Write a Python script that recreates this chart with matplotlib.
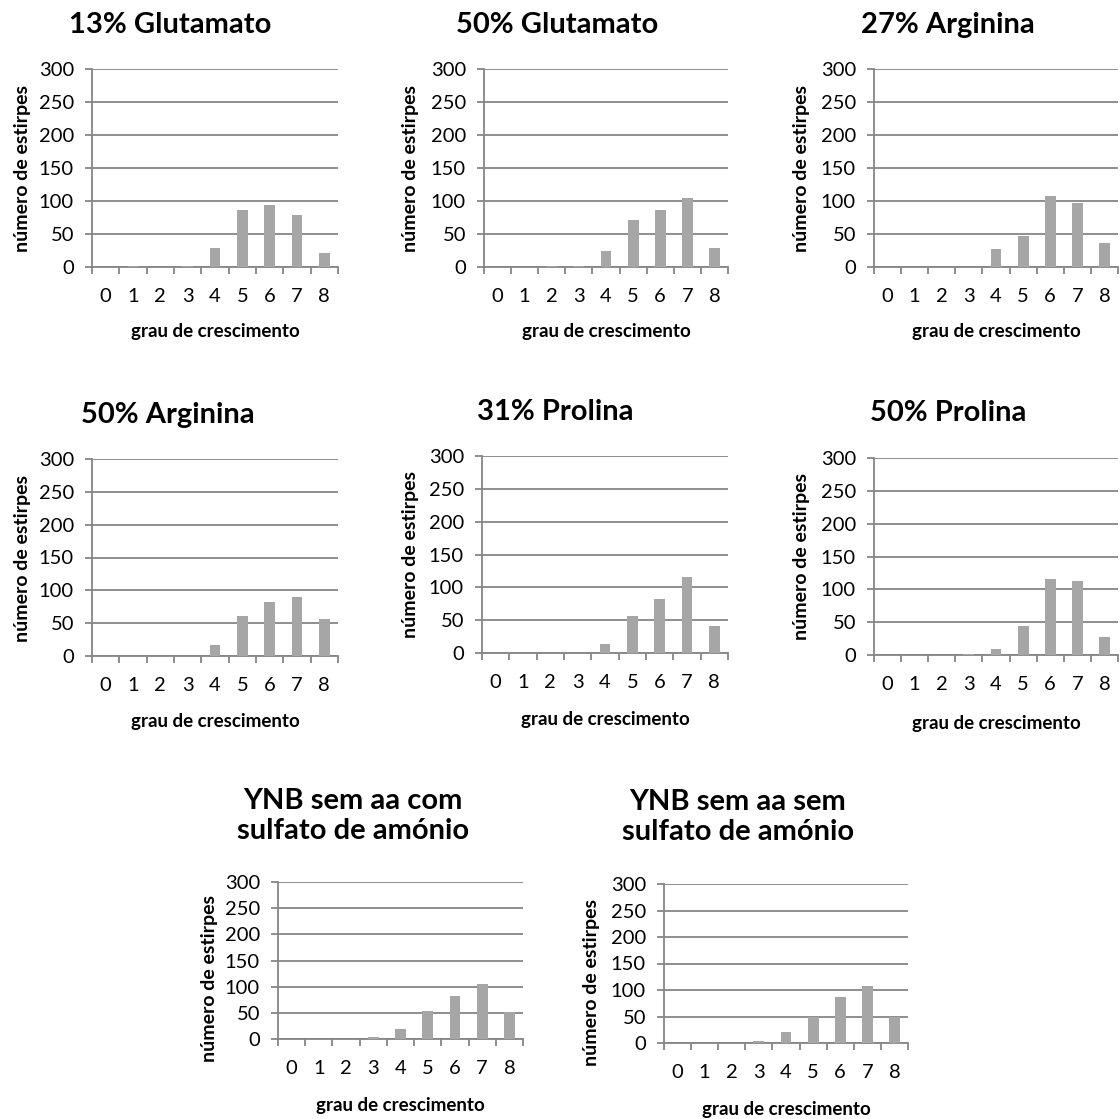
import matplotlib.pyplot as plt
import numpy as np

plt.rcParams["font.family"] = ["Lato", "DejaVu Sans"]

graus = [0, 1, 2, 3, 4, 5, 6, 7, 8]

titulos = [
    "13% Glutamato",
    "50% Glutamato",
    "27% Arginina",
    "50% Arginina",
    "31% Prolina",
    "50% Prolina",
    "YNB sem aa com\nsulfato de amónio",
    "YNB sem aa sem\nsulfato de amónio",
]

glut_13 = [0, 2, 0, 2, 29, 87, 94, 79, 21]
glut_50 = [0, 0, 2, 2, 24, 71, 87, 104, 29]
arg_27 = [0, 0, 0, 0, 27, 47, 107, 97, 37]
arg_50 = [0, 0, 0, 0, 16, 61, 82, 90, 56]
prol_31 = [0, 0, 0, 0, 14, 56, 82, 116, 41]
prol_50 = [0, 0, 0, 1, 9, 44, 116, 112, 28]
ynb_com = [0, 0, 0, 4, 20, 53, 82, 105, 51]
ynb_sem = [0, 0, 0, 4, 21, 50, 86, 108, 50]

series = [glut_13, glut_50, arg_27, arg_50, prol_31, prol_50, ynb_com, ynb_sem]

W, H = 1120, 1119
fig = plt.figure(figsize=(W / 100, H / 100), dpi=100)

# caixas dos eixos em pixeis: (esquerda, topo, direita, fundo)
caixas = [
    (92, 69, 338, 267), (484, 69, 728, 267), (874, 69, 1118, 267),
    (92, 459, 338, 656), (482, 456, 728, 653), (874, 458, 1118, 655),
    (278, 882, 523, 1039), (664, 884, 908, 1043),
]
# posicao do titulo (x, y) e do rotulo y (x, y)
pos_titulo = [(170, 25), (557, 25), (948, 25), (168, 415), (555, 412), (948, 413),
              (353, 816), (738, 817)]
pos_ylabel = [(23, 169), (411, 169), (802, 169), (23, 558), (411, 555), (802, 557),
              (210, 979), (591, 983)]
pos_xlabel = [332, 332, 332, 722, 720, 723, 1105, 1110]

cinza = "#868686"
cor_barra = "#a6a6a6"

for i, valores in enumerate(series):
    l, t, r, b = caixas[i]
    ax = fig.add_axes([l / W, 1 - b / H, (r - l) / W, (b - t) / H])
    ax.bar(graus, valores, width=0.4, color=cor_barra, zorder=3)
    ax.set_xlim(-0.5, 8.5)
    ax.set_ylim(0, 300)
    ax.set_yticks(np.arange(0, 301, 50))
    ax.yaxis.grid(True, color=cinza, linewidth=1.3, zorder=0)
    ax.set_axisbelow(True)
    for s in ["top", "right"]:
        ax.spines[s].set_visible(False)
    for s in ["left", "bottom"]:
        ax.spines[s].set_color(cinza)
        ax.spines[s].set_linewidth(1.3)
    # marcas entre categorias, rotulos no centro
    ax.set_xticks(np.arange(-0.5, 9, 1))
    ax.set_xticklabels([])
    ax.set_xticks(graus, minor=True)
    ax.set_xticklabels([str(g) for g in graus], minor=True)
    ax.tick_params(axis="x", which="major", length=5, color=cinza, width=1.3)
    ax.tick_params(axis="x", which="minor", length=0, pad=15, labelsize=14.5)
    ax.tick_params(axis="y", length=5, color=cinza, width=1.3, pad=8, labelsize=14.5)

    cx = (l + r) / 2
    fig.text(pos_titulo[i][0] / W, 1 - pos_titulo[i][1] / H, titulos[i],
             ha="center", va="center", fontsize=21, fontweight="bold", linespacing=1.2)
    fig.text(pos_ylabel[i][0] / W, 1 - pos_ylabel[i][1] / H, "número de estirpes",
             ha="center", va="center", rotation=90, fontsize=14, fontweight="bold")
    fig.text(cx / W, 1 - pos_xlabel[i] / H, "grau de crescimento",
             ha="center", va="center", fontsize=13.5, fontweight="bold")

fig.savefig("out.png", dpi=100, facecolor="white")
